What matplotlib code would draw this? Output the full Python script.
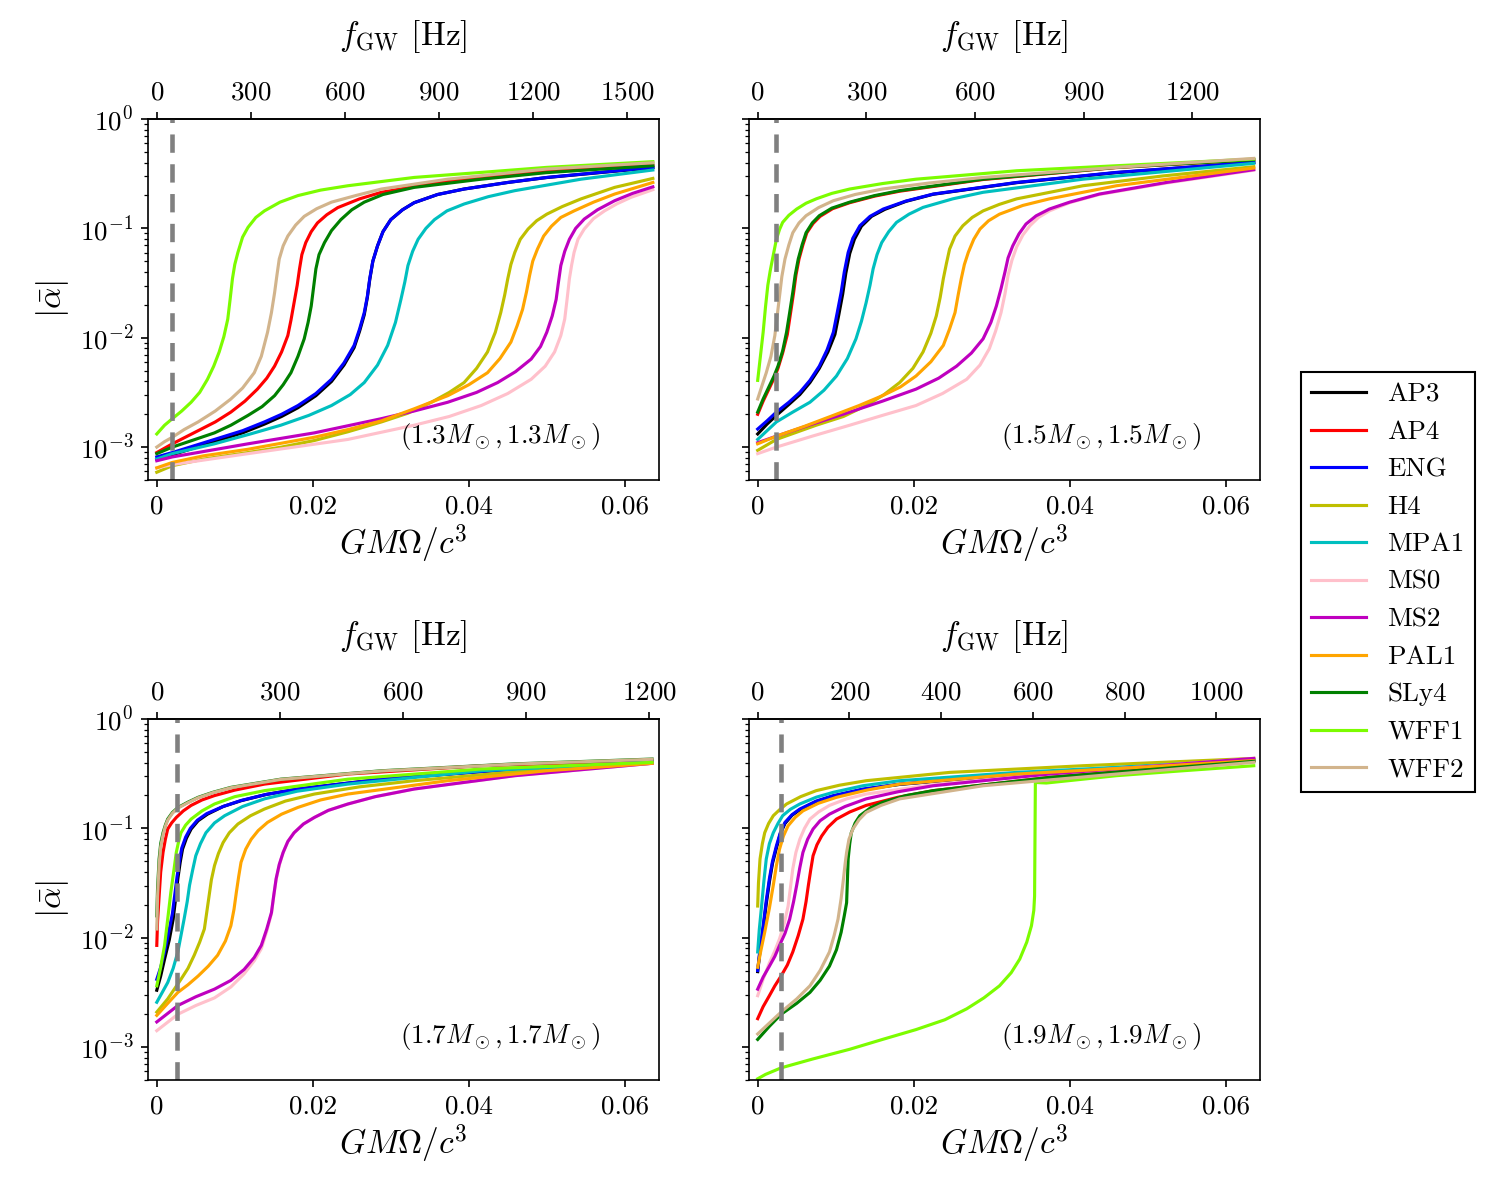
import matplotlib
matplotlib.use('Agg')
import matplotlib.pyplot as plt
import numpy as np

plt.rcParams['font.family'] = 'serif'
plt.rcParams['font.serif'] = ['cmr10']
plt.rcParams['mathtext.fontset'] = 'cm'
plt.rcParams['axes.formatter.use_mathtext'] = True

TSUN = 4.9255e-6  # G M_sun / c^3 in seconds

eos_names = ['AP3', 'AP4', 'ENG', 'H4', 'MPA1', 'MS0', 'MS2', 'PAL1', 'SLy4', 'WFF1', 'WFF2']
eos_colors = ['k', 'r', 'b', 'y', 'c', 'pink', 'm', 'orange', 'g', 'lawngreen', 'tan']

masses = [1.3, 1.5, 1.7, 1.9]
top_ticks = [[0, 300, 600, 900, 1200, 1500],
             [0, 300, 600, 900, 1200],
             [0, 300, 600, 900, 1200],
             [0, 200, 400, 600, 800, 1000]]
bottom_ticks = [0, 0.02, 0.04, 0.06]
bottom_labels = ['0', '0.02', '0.04', '0.06']
f_line = 50  # Hz, dashed line

# curves: (GM Omega / c^3, log10 |alpha|)
## (1.3, 1.3) Msun ##
AP3_13 = [(0, -3.11), (0.002, -3.07), (0.0074, -2.95), (0.011, -2.87), (0.0138, -2.79), (0.016, -2.72), (0.0181, -2.64), (0.0204, -2.53), (0.0224, -2.40), (0.024, -2.25), (0.0253, -2.09), (0.026, -1.94), (0.0266, -1.79), (0.027, -1.63), (0.0273, -1.47), (0.0277, -1.30), (0.0283, -1.16), (0.029, -1.03), (0.030, -0.92), (0.0315, -0.83), (0.033, -0.765), (0.036, -0.69), (0.0394, -0.64), (0.045, -0.58), (0.050, -0.535), (0.0636, -0.445)]
AP4_13 = [(0, -3.05), (0.002, -2.97), (0.0053, -2.85), (0.0075, -2.77), (0.0095, -2.68), (0.0113, -2.58), (0.0129, -2.47), (0.0141, -2.37), (0.0151, -2.26), (0.016, -2.13), (0.0168, -1.98), (0.0172, -1.84), (0.0176, -1.68), (0.018, -1.52), (0.0183, -1.37), (0.0186, -1.24), (0.0191, -1.13), (0.0198, -1.03), (0.0206, -0.95), (0.0218, -0.875), (0.0232, -0.81), (0.026, -0.73), (0.0288, -0.67), (0.0373, -0.564), (0.050, -0.473), (0.0636, -0.42)]
ENG_13 = [(0, -3.09), (0.002, -3.05), (0.0074, -2.93), (0.011, -2.85), (0.0138, -2.77), (0.016, -2.70), (0.0181, -2.62), (0.0204, -2.51), (0.0224, -2.38), (0.024, -2.23), (0.0253, -2.07), (0.026, -1.92), (0.0266, -1.77), (0.027, -1.62), (0.0273, -1.46), (0.0277, -1.30), (0.0283, -1.16), (0.029, -1.03), (0.030, -0.92), (0.0315, -0.83), (0.033, -0.765), (0.036, -0.69), (0.0394, -0.64), (0.045, -0.58), (0.050, -0.534), (0.0636, -0.442)]
H4_13 = [(0, -3.23), (0.002, -3.17), (0.006, -3.11), (0.0117, -3.05), (0.016, -3.0), (0.0202, -2.94), (0.0245, -2.86), (0.0288, -2.77), (0.0322, -2.69), (0.0352, -2.59), (0.0375, -2.50), (0.0394, -2.41), (0.041, -2.28), (0.0424, -2.13), (0.0434, -1.95), (0.0441, -1.77), (0.0446, -1.61), (0.045, -1.46), (0.0454, -1.33), (0.0459, -1.22), (0.0466, -1.10), (0.0476, -1.006), (0.0487, -0.93), (0.050, -0.87), (0.052, -0.80), (0.0544, -0.73), (0.0587, -0.625), (0.0636, -0.543)]
MPA1_13 = [(0, -3.11), (0.002, -3.06), (0.0074, -2.97), (0.012, -2.88), (0.0159, -2.80), (0.0195, -2.71), (0.0224, -2.62), (0.0248, -2.52), (0.0266, -2.41), (0.0283, -2.25), (0.0296, -2.07), (0.0306, -1.86), (0.0313, -1.65), (0.0318, -1.49), (0.0322, -1.34), (0.0328, -1.21), (0.0335, -1.10), (0.0345, -1.0), (0.0356, -0.92), (0.0372, -0.84), (0.0394, -0.777), (0.0425, -0.71), (0.0459, -0.655), (0.0544, -0.55), (0.0636, -0.466)]
MS0_13 = [(0, -3.19), (0.002, -3.16), (0.0117, -3.06), (0.0245, -2.93), (0.033, -2.80), (0.0375, -2.72), (0.0416, -2.62), (0.045, -2.51), (0.048, -2.38), (0.0498, -2.26), (0.051, -2.13), (0.0518, -1.98), (0.0523, -1.83), (0.0526, -1.65), (0.0529, -1.46), (0.0532, -1.33), (0.0535, -1.22), (0.054, -1.10), (0.0548, -1.006), (0.056, -0.91), (0.0574, -0.84), (0.059, -0.775), (0.0608, -0.716), (0.0636, -0.646)]
MS2_13 = [(0, -3.125), (0.002, -3.09), (0.0117, -2.97), (0.0202, -2.87), (0.0288, -2.74), (0.033, -2.67), (0.0373, -2.59), (0.041, -2.50), (0.0437, -2.41), (0.046, -2.31), (0.048, -2.195), (0.0492, -2.08), (0.050, -1.95), (0.0507, -1.80), (0.0512, -1.65), (0.0515, -1.49), (0.0518, -1.34), (0.0523, -1.21), (0.0529, -1.10), (0.0537, -1.0), (0.0548, -0.915), (0.0565, -0.83), (0.0587, -0.747), (0.061, -0.68), (0.0636, -0.62)]
PAL1_13 = [(0, -3.19), (0.002, -3.14), (0.006, -3.08), (0.0117, -3.02), (0.0202, -2.91), (0.0245, -2.84), (0.0288, -2.76), (0.033, -2.65), (0.0373, -2.53), (0.040, -2.43), (0.0424, -2.32), (0.044, -2.19), (0.0454, -2.04), (0.0462, -1.89), (0.0469, -1.74), (0.0474, -1.58), (0.0478, -1.43), (0.0482, -1.30), (0.0488, -1.19), (0.0496, -1.07), (0.0506, -0.98), (0.0518, -0.90), (0.0535, -0.84), (0.056, -0.76), (0.0587, -0.686), (0.0636, -0.58)]
SLy4_13 = [(0, -3.06), (0.002, -3.0), (0.0045, -2.94), (0.0074, -2.87), (0.0095, -2.80), (0.0117, -2.71), (0.0135, -2.63), (0.0151, -2.53), (0.0162, -2.43), (0.0172, -2.32), (0.0181, -2.17), (0.0189, -2.01), (0.0194, -1.86), (0.0198, -1.71), (0.0201, -1.54), (0.0204, -1.37), (0.0208, -1.24), (0.0215, -1.13), (0.0224, -1.02), (0.0236, -0.92), (0.025, -0.83), (0.0266, -0.76), (0.029, -0.69), (0.033, -0.625), (0.0416, -0.55), (0.050, -0.49), (0.0636, -0.427)]
WFF1_13 = [(0, -2.88), (0.001, -2.80), (0.002, -2.74), (0.0032, -2.67), (0.0044, -2.59), (0.0055, -2.50), (0.0065, -2.38), (0.0073, -2.26), (0.008, -2.13), (0.0086, -1.99), (0.0091, -1.83), (0.0094, -1.65), (0.0097, -1.46), (0.0100, -1.33), (0.0104, -1.22), (0.0110, -1.08), (0.0117, -0.99), (0.0127, -0.90), (0.0138, -0.84), (0.0158, -0.76), (0.0181, -0.70), (0.021, -0.65), (0.0245, -0.61), (0.033, -0.534), (0.0416, -0.488), (0.050, -0.442), (0.0636, -0.39)]
WFF2_13 = [(0, -3.0), (0.001, -2.95), (0.002, -2.91), (0.0035, -2.84), (0.0053, -2.77), (0.0075, -2.67), (0.0095, -2.56), (0.011, -2.46), (0.0125, -2.32), (0.0134, -2.17), (0.0142, -1.95), (0.0147, -1.77), (0.0151, -1.59), (0.0154, -1.43), (0.0157, -1.28), (0.0162, -1.16), (0.0168, -1.07), (0.0178, -0.97), (0.0189, -0.89), (0.0205, -0.82), (0.0224, -0.76), (0.0255, -0.70), (0.0288, -0.64), (0.0373, -0.55), (0.050, -0.457), (0.0636, -0.40)]

## (1.5, 1.5) Msun ##
AP3_15 = [(0, -2.88), (0.0012, -2.79), (0.0024, -2.71), (0.004, -2.61), (0.0054, -2.52), (0.0067, -2.41), (0.0079, -2.28), (0.009, -2.13), (0.0099, -1.97), (0.0104, -1.79), (0.0109, -1.60), (0.0113, -1.41), (0.0118, -1.23), (0.0124, -1.10), (0.0133, -0.98), (0.0146, -0.89), (0.0163, -0.826), (0.019, -0.753), (0.0225, -0.688), (0.0332, -0.582), (0.046, -0.49), (0.0636, -0.398)]
AP4_15 = [(0, -2.70), (0.0007, -2.58), (0.0015, -2.46), (0.0021, -2.37), (0.0026, -2.28), (0.0032, -2.14), (0.0038, -1.97), (0.0042, -1.78), (0.0046, -1.59), (0.0049, -1.43), (0.0053, -1.28), (0.0058, -1.15), (0.0063, -1.04), (0.0071, -0.955), (0.008, -0.89), (0.0096, -0.82), (0.0118, -0.765), (0.015, -0.705), (0.0182, -0.66), (0.0289, -0.553), (0.046, -0.444), (0.0636, -0.373)]
ENG_15 = [(0, -2.835), (0.0012, -2.76), (0.0024, -2.68), (0.004, -2.59), (0.0054, -2.50), (0.0067, -2.39), (0.0079, -2.26), (0.0089, -2.11), (0.0097, -1.95), (0.0102, -1.77), (0.0107, -1.585), (0.0111, -1.40), (0.0116, -1.22), (0.0122, -1.09), (0.0131, -0.976), (0.0144, -0.89), (0.0161, -0.823), (0.019, -0.75), (0.0225, -0.686), (0.0332, -0.58), (0.046, -0.488), (0.0636, -0.396)]
H4_15 = [(0, -3.03), (0.0024, -2.93), (0.0075, -2.80), (0.011, -2.72), (0.0139, -2.62), (0.0162, -2.52), (0.0182, -2.41), (0.0199, -2.28), (0.0212, -2.13), (0.0222, -1.96), (0.0229, -1.80), (0.0234, -1.63), (0.0238, -1.46), (0.0242, -1.32), (0.0246, -1.19), (0.0253, -1.07), (0.0263, -0.976), (0.0275, -0.90), (0.0289, -0.84), (0.031, -0.78), (0.0332, -0.73), (0.0417, -0.61), (0.052, -0.52), (0.0636, -0.436)]
MPA1_15 = [(0, -2.93), (0.0012, -2.85), (0.0024, -2.77), (0.0045, -2.68), (0.0067, -2.59), (0.0085, -2.48), (0.0101, -2.35), (0.0115, -2.19), (0.0126, -2.01), (0.0133, -1.85), (0.0139, -1.68), (0.0144, -1.52), (0.0148, -1.37), (0.0153, -1.24), (0.0159, -1.13), (0.0168, -1.03), (0.0178, -0.945), (0.0194, -0.87), (0.0212, -0.808), (0.025, -0.73), (0.0289, -0.67), (0.0417, -0.55), (0.0636, -0.405)]
MS0_15 = [(0, -3.06), (0.0024, -3.0), (0.007, -2.90), (0.0118, -2.80), (0.016, -2.71), (0.0203, -2.62), (0.0237, -2.51), (0.0268, -2.38), (0.0285, -2.25), (0.0297, -2.10), (0.0305, -1.94), (0.0312, -1.77), (0.0317, -1.60), (0.0321, -1.43), (0.0326, -1.29), (0.0332, -1.17), (0.034, -1.06), (0.0349, -0.976), (0.036, -0.90), (0.0374, -0.84), (0.040, -0.765), (0.0438, -0.69), (0.0524, -0.585), (0.0636, -0.468)]
MS2_15 = [(0, -2.96), (0.0024, -2.90), (0.007, -2.79), (0.0118, -2.68), (0.016, -2.58), (0.0203, -2.47), (0.0232, -2.37), (0.0255, -2.26), (0.0274, -2.14), (0.0289, -2.01), (0.0299, -1.86), (0.0306, -1.71), (0.0312, -1.55), (0.0317, -1.40), (0.0321, -1.27), (0.0327, -1.16), (0.0335, -1.05), (0.0344, -0.96), (0.0357, -0.885), (0.0374, -0.823), (0.040, -0.76), (0.0438, -0.686), (0.0524, -0.58), (0.0636, -0.463)]
PAL1_15 = [(0, -2.97), (0.0024, -2.90), (0.006, -2.81), (0.0097, -2.71), (0.013, -2.62), (0.016, -2.53), (0.0183, -2.45), (0.0203, -2.35), (0.0222, -2.22), (0.0238, -2.07), (0.0246, -1.92), (0.0253, -1.77), (0.0257, -1.61), (0.0261, -1.46), (0.0265, -1.33), (0.027, -1.22), (0.0277, -1.10), (0.0285, -1.006), (0.0296, -0.93), (0.031, -0.87), (0.034, -0.79), (0.0374, -0.73), (0.046, -0.61), (0.0636, -0.448)]
SLy4_15 = [(0, -2.68), (0.0007, -2.56), (0.0015, -2.44), (0.0021, -2.35), (0.0026, -2.26), (0.0032, -2.12), (0.0037, -1.95), (0.0041, -1.77), (0.0045, -1.585), (0.0048, -1.43), (0.0052, -1.28), (0.0057, -1.15), (0.0062, -1.04), (0.007, -0.95), (0.0079, -0.884), (0.0095, -0.815), (0.0118, -0.76), (0.015, -0.70), (0.0182, -0.655), (0.0289, -0.55), (0.046, -0.442), (0.0636, -0.372)]
WFF1_15 = [(0, -2.39), (0.0003, -2.20), (0.0007, -1.95), (0.001, -1.72), (0.0013, -1.52), (0.0016, -1.39), (0.0019, -1.28), (0.0024, -1.10), (0.0028, -1.01), (0.0032, -0.945), (0.004, -0.88), (0.005, -0.823), (0.0062, -0.77), (0.0075, -0.73), (0.0095, -0.68), (0.0118, -0.64), (0.016, -0.59), (0.0203, -0.55), (0.0332, -0.473), (0.046, -0.427), (0.0636, -0.366)]
WFF2_15 = [(0, -2.56), (0.0005, -2.45), (0.0011, -2.32), (0.0017, -2.17), (0.0022, -1.98), (0.0025, -1.80), (0.0028, -1.62), (0.0031, -1.44), (0.0035, -1.28), (0.004, -1.15), (0.0045, -1.04), (0.0053, -0.95), (0.0062, -0.884), (0.0078, -0.81), (0.0097, -0.747), (0.0125, -0.69), (0.016, -0.64), (0.022, -0.585), (0.0289, -0.534), (0.046, -0.442), (0.0636, -0.36)]

## (1.7, 1.7) Msun ##
AP3_17 = [(0, -2.48), (0.0005, -2.35), (0.001, -2.195), (0.0016, -2.02), (0.0021, -1.83), (0.0024, -1.65), (0.0027, -1.46), (0.003, -1.31), (0.0033, -1.19), (0.0038, -1.09), (0.0044, -1.006), (0.0053, -0.93), (0.0065, -0.87), (0.0085, -0.80), (0.0108, -0.747), (0.014, -0.69), (0.0181, -0.64), (0.0288, -0.55), (0.0459, -0.457), (0.0635, -0.39)]
AP4_17 = [(0, -2.07), (0.0001, -1.85), (0.0003, -1.62), (0.0005, -1.40), (0.0008, -1.22), (0.0011, -1.10), (0.0014, -1.006), (0.0019, -0.95), (0.0025, -0.90), (0.0034, -0.84), (0.0044, -0.79), (0.0058, -0.74), (0.0074, -0.70), (0.01, -0.65), (0.0138, -0.595), (0.0245, -0.503), (0.0416, -0.427), (0.0635, -0.38)]
ENG_17 = [(0, -2.38), (0.0005, -2.27), (0.001, -2.13), (0.0015, -1.96), (0.002, -1.78), (0.0023, -1.61), (0.0026, -1.44), (0.0029, -1.30), (0.0032, -1.18), (0.0037, -1.08), (0.0043, -1.0), (0.0052, -0.925), (0.0064, -0.865), (0.0085, -0.80), (0.0108, -0.745), (0.014, -0.69), (0.0181, -0.64), (0.0288, -0.55), (0.0459, -0.457), (0.0635, -0.39)]
H4_17 = [(0, -2.68), (0.0014, -2.56), (0.0031, -2.38), (0.004, -2.28), (0.0048, -2.16), (0.0055, -2.04), (0.0061, -1.92), (0.0064, -1.77), (0.0067, -1.62), (0.007, -1.47), (0.0074, -1.34), (0.0079, -1.23), (0.0085, -1.13), (0.0093, -1.04), (0.0104, -0.96), (0.012, -0.885), (0.0138, -0.823), (0.0165, -0.75), (0.0202, -0.686), (0.026, -0.62), (0.033, -0.564), (0.050, -0.457), (0.0635, -0.405)]
MPA1_17 = [(0, -2.59), (0.0007, -2.50), (0.0014, -2.41), (0.0021, -2.28), (0.0027, -2.13), (0.0031, -1.98), (0.0035, -1.83), (0.0039, -1.67), (0.0042, -1.52), (0.0046, -1.38), (0.005, -1.25), (0.0056, -1.14), (0.0063, -1.04), (0.0074, -0.95), (0.0087, -0.884), (0.011, -0.80), (0.0138, -0.73), (0.018, -0.66), (0.0245, -0.595), (0.0416, -0.473), (0.0635, -0.396)]
MS0_17 = [(0, -2.85), (0.0027, -2.70), (0.005, -2.62), (0.0074, -2.55), (0.0095, -2.45), (0.0112, -2.33), (0.0125, -2.21), (0.0134, -2.10), (0.0141, -1.94), (0.0147, -1.78), (0.015, -1.62), (0.0153, -1.47), (0.0157, -1.34), (0.0162, -1.22), (0.0168, -1.12), (0.0176, -1.04), (0.0188, -0.96), (0.0202, -0.90), (0.022, -0.835), (0.0245, -0.777), (0.028, -0.71), (0.033, -0.64), (0.0459, -0.518), (0.0635, -0.405)]
MS2_17 = [(0, -2.77), (0.0027, -2.62), (0.005, -2.54), (0.0074, -2.47), (0.0095, -2.39), (0.0112, -2.29), (0.0125, -2.18), (0.0134, -2.07), (0.0141, -1.92), (0.0147, -1.77), (0.015, -1.61), (0.0153, -1.46), (0.0157, -1.33), (0.0162, -1.22), (0.0168, -1.12), (0.0176, -1.04), (0.0188, -0.96), (0.0202, -0.90), (0.022, -0.835), (0.0245, -0.777), (0.028, -0.71), (0.033, -0.64), (0.0459, -0.518), (0.0635, -0.405)]
PAL1_17 = [(0, -2.71), (0.0014, -2.60), (0.0027, -2.50), (0.004, -2.43), (0.0053, -2.35), (0.0066, -2.26), (0.0078, -2.16), (0.0088, -2.03), (0.0095, -1.89), (0.0099, -1.74), (0.0102, -1.585), (0.0105, -1.44), (0.0108, -1.31), (0.0114, -1.19), (0.0121, -1.10), (0.013, -1.02), (0.0142, -0.945), (0.016, -0.87), (0.0181, -0.808), (0.021, -0.74), (0.0245, -0.686), (0.0373, -0.564), (0.050, -0.473), (0.0635, -0.405)]
SLy4_17 = [(0, -1.80), (0.0001, -1.55), (0.0003, -1.28), (0.0005, -1.14), (0.0008, -1.04), (0.0011, -0.97), (0.0014, -0.915), (0.002, -0.855), (0.0027, -0.81), (0.004, -0.76), (0.0053, -0.716), (0.0072, -0.67), (0.0095, -0.625), (0.0159, -0.55), (0.0288, -0.473), (0.0459, -0.41), (0.0635, -0.366)]
WFF1_17 = [(0, -2.44), (0.0005, -2.27), (0.001, -2.07), (0.0014, -1.83), (0.0018, -1.585), (0.0022, -1.38), (0.0025, -1.22), (0.0028, -1.12), (0.0031, -1.04), (0.0037, -0.97), (0.0044, -0.915), (0.0058, -0.84), (0.0074, -0.777), (0.01, -0.71), (0.0138, -0.655), (0.0245, -0.55), (0.0416, -0.457), (0.0635, -0.396)]
WFF2_17 = [(0, -1.92), (0.0001, -1.62), (0.0003, -1.33), (0.0005, -1.17), (0.0008, -1.06), (0.0011, -0.98), (0.0014, -0.925), (0.002, -0.862), (0.0027, -0.815), (0.004, -0.765), (0.0053, -0.72), (0.0072, -0.673), (0.0095, -0.628), (0.0159, -0.552), (0.0288, -0.475), (0.0459, -0.412), (0.0635, -0.368)]

## (1.9, 1.9) Msun ##
AP3_19 = [(0, -2.31), (0.0003, -2.12), (0.0007, -1.92), (0.0011, -1.69), (0.0015, -1.49), (0.0019, -1.32), (0.0024, -1.18), (0.0029, -1.05), (0.0035, -0.955), (0.0044, -0.88), (0.0054, -0.83), (0.0075, -0.755), (0.0097, -0.705), (0.0135, -0.645), (0.0182, -0.598), (0.0332, -0.505), (0.0503, -0.43), (0.0636, -0.375)]
AP4_19 = [(0, -2.74), (0.0007, -2.63), (0.0015, -2.53), (0.0022, -2.44), (0.003, -2.35), (0.0038, -2.25), (0.0045, -2.13), (0.0052, -1.98), (0.0058, -1.83), (0.0062, -1.67), (0.0065, -1.52), (0.0068, -1.38), (0.0071, -1.25), (0.0076, -1.15), (0.0082, -1.07), (0.009, -0.99), (0.0101, -0.915), (0.0118, -0.85), (0.0139, -0.79), (0.018, -0.715), (0.0225, -0.655), (0.0374, -0.534), (0.0636, -0.38)]
ENG_19 = [(0, -2.30), (0.0003, -2.10), (0.0007, -1.89), (0.0011, -1.66), (0.0015, -1.46), (0.0019, -1.30), (0.0024, -1.16), (0.0029, -1.04), (0.0035, -0.945), (0.0044, -0.875), (0.0054, -0.823), (0.0075, -0.75), (0.0097, -0.70), (0.0135, -0.64), (0.0182, -0.595), (0.0332, -0.503), (0.0503, -0.427), (0.0636, -0.372)]
H4_19 = [(0, -1.71), (0.0001, -1.50), (0.0003, -1.28), (0.0006, -1.14), (0.0009, -1.04), (0.0014, -0.955), (0.002, -0.884), (0.0028, -0.83), (0.0037, -0.777), (0.0055, -0.71), (0.0075, -0.655), (0.0105, -0.605), (0.0139, -0.564), (0.0246, -0.488), (0.0417, -0.427), (0.0636, -0.36)]
MPA1_19 = [(0, -2.13), (0.0002, -1.93), (0.0005, -1.71), (0.0008, -1.48), (0.0011, -1.28), (0.0015, -1.14), (0.002, -1.04), (0.0026, -0.955), (0.0032, -0.884), (0.0042, -0.825), (0.0054, -0.777), (0.0075, -0.715), (0.0097, -0.67), (0.0135, -0.61), (0.0182, -0.564), (0.0332, -0.488), (0.0503, -0.427), (0.0636, -0.372)]
MS0_19 = [(0, -2.53), (0.0007, -2.38), (0.0015, -2.23), (0.0022, -2.12), (0.0028, -2.01), (0.0034, -1.87), (0.0039, -1.71), (0.0042, -1.54), (0.0045, -1.37), (0.0049, -1.22), (0.0054, -1.10), (0.006, -1.0), (0.0067, -0.915), (0.0078, -0.85), (0.0092, -0.79), (0.0114, -0.73), (0.0139, -0.686), (0.0225, -0.6), (0.0374, -0.5), (0.0636, -0.362)]
MS2_19 = [(0, -2.47), (0.0007, -2.36), (0.0015, -2.26), (0.0022, -2.17), (0.0028, -2.07), (0.0035, -1.96), (0.0041, -1.83), (0.0046, -1.67), (0.005, -1.52), (0.0054, -1.36), (0.0058, -1.22), (0.0064, -1.10), (0.0071, -1.006), (0.008, -0.93), (0.0092, -0.87), (0.0112, -0.80), (0.0139, -0.73), (0.018, -0.665), (0.0225, -0.61), (0.0374, -0.503), (0.0636, -0.36)]
PAL1_19 = [(0, -2.27), (0.0004, -2.12), (0.0009, -1.95), (0.0015, -1.73), (0.002, -1.52), (0.0024, -1.34), (0.0028, -1.19), (0.0033, -1.07), (0.0039, -0.976), (0.0048, -0.90), (0.0058, -0.84), (0.0078, -0.77), (0.0101, -0.716), (0.014, -0.65), (0.0182, -0.595), (0.0332, -0.503), (0.0503, -0.436), (0.0636, -0.38)]
SLy4_19 = [(0, -2.93), (0.0015, -2.81), (0.003, -2.70), (0.005, -2.60), (0.0067, -2.50), (0.008, -2.39), (0.0092, -2.26), (0.0101, -2.11), (0.0107, -1.95), (0.0111, -1.80), (0.0114, -1.68), (0.0115, -1.48), (0.0116, -1.28), (0.0118, -1.14), (0.012, -1.04), (0.0125, -0.95), (0.0131, -0.884), (0.0145, -0.81), (0.0161, -0.76), (0.019, -0.70), (0.0225, -0.655), (0.0374, -0.534), (0.0636, -0.387)]
WFF1_19 = [(0, -3.29), (0.001, -3.25), (0.003, -3.19), (0.007, -3.11), (0.0118, -3.02), (0.016, -2.93), (0.0203, -2.84), (0.024, -2.75), (0.0268, -2.65), (0.029, -2.55), (0.031, -2.44), (0.0325, -2.32), (0.0336, -2.195), (0.0345, -2.04), (0.0351, -1.89), (0.0354, -1.75), (0.0355, -1.62), (0.0356, -0.58), (0.037, -0.585), (0.046, -0.518), (0.0545, -0.473), (0.0636, -0.427)]
WFF2_19 = [(0, -2.88), (0.0015, -2.78), (0.003, -2.68), (0.005, -2.56), (0.0067, -2.44), (0.008, -2.30), (0.0092, -2.13), (0.0098, -1.98), (0.0103, -1.83), (0.0107, -1.64), (0.011, -1.46), (0.0112, -1.33), (0.0114, -1.22), (0.0117, -1.10), (0.0122, -1.006), (0.013, -0.92), (0.0139, -0.854), (0.0158, -0.79), (0.0182, -0.73), (0.0289, -0.61), (0.046, -0.503), (0.0636, -0.396)]

curves = [
    [AP3_13, AP4_13, ENG_13, H4_13, MPA1_13, MS0_13, MS2_13, PAL1_13, SLy4_13, WFF1_13, WFF2_13],
    [AP3_15, AP4_15, ENG_15, H4_15, MPA1_15, MS0_15, MS2_15, PAL1_15, SLy4_15, WFF1_15, WFF2_15],
    [AP3_17, AP4_17, ENG_17, H4_17, MPA1_17, MS0_17, MS2_17, PAL1_17, SLy4_17, WFF1_17, WFF2_17],
    [AP3_19, AP4_19, ENG_19, H4_19, MPA1_19, MS0_19, MS2_19, PAL1_19, SLy4_19, WFF1_19, WFF2_19],
]

fig = plt.figure(figsize=(10, 8), dpi=150)

# axes boxes in figure fraction
boxes = [[0.0987, 0.600, 0.3407, 0.3008],
         [0.4993, 0.600, 0.3407, 0.3008],
         [0.0987, 0.100, 0.3407, 0.3008],
         [0.4993, 0.100, 0.3407, 0.3008]]

handles = []
for i in range(4):
    ax = fig.add_axes(boxes[i])
    mtot = 2 * masses[i]
    scale = np.pi * mtot * TSUN

    for j in range(len(eos_names)):
        pts = np.array(curves[i][j])
        line, = ax.plot(pts[:, 0], 10 ** pts[:, 1], color=eos_colors[j], lw=1.5,
                        label=eos_names[j], solid_joinstyle='round')
        if i == 0:
            handles.append(line)

    ax.axvline(f_line * scale, color='gray', ls='--', lw=2.2, dashes=(4, 2.5))

    ax.set_yscale('log')
    ax.set_ylim(5e-4, 1)
    ax.set_xlim(-0.00112, 0.0644)
    ax.set_xticks(bottom_ticks, bottom_labels)
    ax.tick_params(labelsize=13)
    ax.set_xlabel(r'$GM\Omega/c^3$', fontsize=16, labelpad=2)
    if i % 2 == 0:
        ax.set_ylabel(r'$|\bar{\alpha}|$', fontsize=16)
    else:
        ax.tick_params(axis='y', labelleft=False)

    sec = ax.secondary_xaxis('top', functions=(lambda x, s=scale: x / s, lambda f, s=scale: f * s))
    sec.set_xticks(top_ticks[i])
    sec.tick_params(labelsize=13)
    sec.set_xlabel(r'$f_{\rm GW}$ [Hz]', fontsize=16, labelpad=17)

    ax.text(0.69, 0.12, r'$(%.1fM_\odot, %.1fM_\odot)$' % (masses[i], masses[i]),
            transform=ax.transAxes, ha='center', va='center', fontsize=13)

fig.legend(handles=handles, loc='center left', bbox_to_anchor=(0.858, 0.515),
           fontsize=13, fancybox=False, edgecolor='k', framealpha=1, labelspacing=0.5)

fig.savefig('out.png', dpi=150)
